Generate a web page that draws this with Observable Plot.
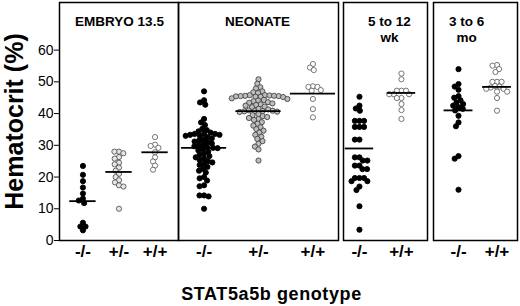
<!DOCTYPE html>
<html><head><meta charset="utf-8">
<script src="https://cdn.jsdelivr.net/npm/d3@7"></script>
<script src="https://cdn.jsdelivr.net/npm/@observablehq/plot@0.6"></script>
<style>
body{margin:0;background:#fff;}
#chart{position:relative;width:520px;height:306px;overflow:hidden;background:#fff;font-family:"Liberation Sans",Arial,sans-serif;}
#chart svg{position:absolute;top:0;background:transparent !important;overflow:visible;}
#chart svg text{font-family:"Liberation Sans",Arial,sans-serif;}
#chart g[aria-label="y-axis tick label"] text{font-size:14px;}
#chart g[aria-label="y-axis label"] text{font-size:25px;font-weight:bold;}
#chart g[aria-label="fx-axis tick label"] text{font-size:17px;font-weight:bold;}
#xtitle{position:absolute;left:0;width:543px;top:285px;text-align:center;font-weight:bold;font-size:18px;line-height:18px;letter-spacing:0.6px;}
</style></head><body>
<div id="chart"><div id="xtitle">STAT5a5b genotype</div></div>
<script>
// ---------- data (hematocrit %) ----------
const embryoGenotypes = ["-/-", "+/-", "+/+"];
const neonateGenotypes = ["-/-", "+/-", "+/+"];
const adultGenotypes = ["-/-", "+/+"];
const panelTitles = ["EMBRYO 13.5", "NEONATE", "5 to 12\nwk", "3 to 6\nmo"];
const yTicks = [0, 10, 20, 30, 40, 50, 60];
const yLabel = "Hematocrit (%)";

const embryoKO = [23.5, 20.7, 18.7, 16.7, 14.8, 13.2, 12.6, 11.8, 5.6, 4.4, 4.4, 3.2];
const embryoHet = [28, 28, 27.5, 26.3, 25.8, 24.5, 24, 23, 22, 21, 20, 19, 18.3, 17.4, 17, 10];
const embryoWT = [32.6, 30.2, 29.8, 29.2, 27.8, 26.2, 24.9, 23.6, 22.3];
const embryoMeans = [12.4, 21.6, 27.8];

const neonateKO = [47, 44.2, 43.5, 42.8, 38.3, 37.2, 36.4,
  35.2, 34.8, 34.4, 34, 33.6, 33.6, 33.6, 33.3, 33.3, 33, 33, 32.6, 32.2, 31.8, 31.5, 31.2, 31, 30.6,
  30.3, 30, 29.7, 29.4, 29.2, 29.1, 28.8, 28.4, 28,
  27.4, 27, 26.6, 26.2, 25.8, 25.4, 25, 24.6, 24.2, 23.8, 23.2, 22.6, 22, 21.4,
  20, 19.6, 18.9, 17.4, 17.1, 14.2, 14.2, 13.9, 10];
const neonateHet = [50.8, 49.4, 48.3, 47.9, 47.0, 46.7, 46.5,
  45.8, 45.8, 45.7, 45.6, 45.6, 45.5, 45.5, 45.4, 45.3, 45.3, 45.2,
  44.8, 44.6, 44.3, 44.1, 43.9, 43.6, 43.4, 43.2, 42.9, 42.7, 42.5, 42.2, 42.0, 41.5, 41.3,
  41.0, 40.9, 40.8, 40.8, 40.7, 40.6, 40.5,
  39.8, 39.5, 39.2, 38.9, 38.6, 38.3, 38.0,
  37.3, 36.8, 36.2, 35.7, 35.1, 34.6, 34.0, 33.3, 32.7, 32.0, 31.3, 30.5, 29.6, 28.7, 25.2];
const neonateWT = [55.6, 54.5, 53.7, 48.6, 48.4, 48.4, 47.4, 47.2, 44.6, 41.4, 38.8];
const neonateMeans = [29.2, 40.8, 46.3];

const wkKO = [45.3, 42.5, 41.6, 40.9, 37.7, 37.7, 37.7, 35.8, 35.8, 35.8, 31.8, 31.8,
  26.2, 26.2, 25.2, 25.2, 23.6, 23.6, 22.5, 22.5, 19.7, 19.7, 19.7, 18.7, 18.7, 17, 15.9, 10.8, 3.4];
const wkWT = [52.6, 50.8, 47.2, 47.2, 47.2, 46.1, 46.1, 46.1, 44.9, 44.9, 43, 41.1, 38.3];
const wkMeans = [29.0, 46.5];

const moKO = [54, 49.3, 48.5, 47.5, 45.5, 45, 44.2, 43.5, 43, 42.5, 42, 41.5, 41, 39.3, 37.2, 36, 26.6, 25.8, 16];
const moWT = [55.3, 55.1, 54, 53.1, 50, 50, 50, 48.7, 48.5, 48.2, 47.8, 47.8, 46.9, 46.9, 44.9, 40.9];
const moMeans = [41.0, 48.4];

// ---------- styles / layout ----------
const styles = {
  ko: {fill: "#000", stroke: "#000"},
  hetLight: {fill: "#e6e6e6", stroke: "#555"},
  het: {fill: "#bdbdbd", stroke: "#444"},
  wt: {fill: "#fff", stroke: "#666"}
};
const H = 306, MT = 2, MB = 66, yDomain = [0, 75];
const chart = document.getElementById("chart");

// y axis (shared, drawn once at the left)
const yAxisSvg = Plot.plot({
  width: 60, height: H, marginTop: MT, marginBottom: MB, marginLeft: 59, marginRight: 1,
  y: {domain: yDomain},
  marks: [Plot.axisY({ticks: yTicks, tickSize: 5, tickPadding: 1, label: yLabel,
    labelAnchor: "center", labelArrow: "none", labelOffset: 54})]
});
yAxisSvg.style.left = "0px";
chart.appendChild(yAxisSvg);

function panel(o) {
  const W = o.width - 4, n = o.genotypes.length;
  const {paddingInner: pi, paddingOuter: po, align} = o.fx;
  const step = W / (n - pi + 2 * po);
  const extra = W - step * (n - pi);
  const exL = extra * align, exR = extra * (1 - align);
  const superCenter = o.left + 2 + exL + (W - extra) / 2;
  const marks = [Plot.frame({stroke: "#000", strokeWidth: 1.5, facet: "super", insetLeft: -exL, insetRight: -exR})];
  o.genotypes.forEach((g, i) => {
    const st = o.styles[i];
    marks.push(Plot.dot(o.series[i], Plot.dodgeX({anchor: "middle", padding: -0.6},
      {y: d => d, fx: () => g, r: 2.6, fill: st.fill, stroke: st.stroke, strokeWidth: 0.9})));
  });
  marks.push(Plot.tickY(o.means, {y: d => d, fx: (d, i) => o.genotypes[i], stroke: "#000", strokeWidth: 1.8,
    insetLeft: o.inset, insetRight: o.inset}));
  marks.push(Plot.text([o.title], {frameAnchor: "top", dy: 12, dx: o.titleCenter - superCenter, fontSize: 13.5,
    fontWeight: "bold", lineHeight: 1.17, facet: "super"}));
  const svg = Plot.plot({
    width: o.width, height: H, marginTop: MT, marginBottom: MB, marginLeft: 2, marginRight: 2,
    y: {domain: yDomain, axis: null},
    fx: {domain: o.genotypes, axis: "bottom", label: null, tickSize: 0, tickPadding: 4, round: false, ...o.fx},
    marks
  });
  svg.style.left = o.left + "px";
  chart.appendChild(svg);
}

panel({title: panelTitles[0], genotypes: embryoGenotypes, series: [embryoKO, embryoHet, embryoWT], means: embryoMeans,
  styles: [styles.ko, styles.hetLight, styles.wt], left: 57, width: 123, titleCenter: 119,
  fx: {paddingInner: 0.27, paddingOuter: 0.285, align: 0.5}, inset: 0});
panel({title: panelTitles[1], genotypes: neonateGenotypes, series: [neonateKO, neonateHet, neonateWT], means: neonateMeans,
  styles: [styles.ko, styles.het, styles.wt], left: 176, width: 164, titleCenter: 257,
  fx: {paddingInner: 0.06, paddingOuter: 0, align: 0.5}, inset: 3});
panel({title: panelTitles[2], genotypes: adultGenotypes, series: [wkKO, wkWT], means: wkMeans,
  styles: [styles.ko, styles.wt], left: 341, width: 88, titleCenter: 389,
  fx: {paddingInner: 0.3, paddingOuter: 0.15, align: 0.1}, inset: 0.5});
panel({title: panelTitles[3], genotypes: adultGenotypes, series: [moKO, moWT], means: moMeans,
  styles: [styles.ko, styles.wt], left: 431, width: 88, titleCenter: 466,
  fx: {paddingInner: 0.25, paddingOuter: 0.216, align: 0.636}, inset: 0});
</script>
</body></html>
